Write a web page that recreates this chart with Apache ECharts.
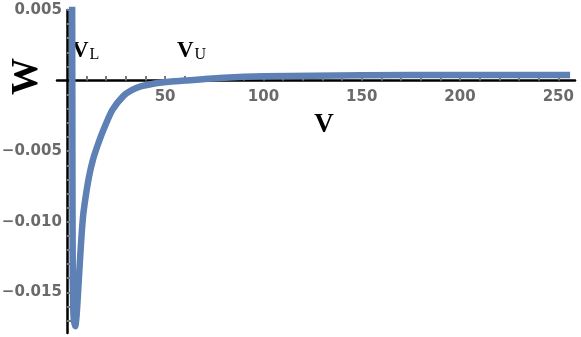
<!DOCTYPE html>
<html><head><meta charset="utf-8">
<script src="https://cdn.jsdelivr.net/npm/echarts@6/dist/echarts.min.js"></script>
<style>html,body{margin:0;padding:0;background:#fff}#c{width:581px;height:337px}</style>
</head><body><div id="c"></div>
<script>
const vValues = [2.70, 2.78, 2.88, 3.0, 3.2, 3.6, 4.3, 5.0, 5.8, 7.0, 8.2, 9.5, 11.3, 13.3, 15.5, 18.6, 23.1, 28.7, 33, 38, 44, 52, 60, 80, 100, 150, 200, 256];
const wValues = [0.0065, 0.0, -0.0080, -0.0133, -0.0158, -0.0170, -0.0174, -0.0166, -0.0148, -0.0120, -0.0097, -0.0083, -0.0068, -0.0056, -0.00465, -0.0035, -0.0021, -0.0011, -0.00068, -0.00040, -0.00022, -0.00009, 0.0, 0.0002, 0.0003, 0.00037, 0.0004, 0.0004];
const xTickLabels = [50, 100, 150, 200, 250];
const yTickLabels = [0.005, -0.005, -0.010, -0.015];
const xMinorTicks = [10,20,30,40,50,60,70,80,90,100,110,120,130,140,150,160,170,180,190,200,210,220,230,240,250];
const yMinorTicks = [0.005,0.004,0.003,0.002,0.001,-0.001,-0.002,-0.003,-0.004,-0.005,-0.006,-0.007,-0.008,-0.009,-0.010,-0.011,-0.012,-0.013,-0.014,-0.015,-0.016,-0.017];
const annotations = [{main:'V', sub:'L'}, {main:'V', sub:'U'}];

const xMin = -5, xMax = 258.5, yMin = -0.01788, yMax = 0.005;
const gridL = 57, gridR = 6, gridT = 10, gridB = 4;
const W = 581, H = 337;
const plotW = W - gridL - gridR, plotH = H - gridT - gridB;
// shift axes so that they cross at the origin
const xOffset = -plotH * (0 - yMin) / (yMax - yMin);
const yOffset = -plotW * (0 - xMin) / (xMax - xMin);

const chart = echarts.init(document.getElementById('c'), null, {renderer:'canvas'});
const labelStyle = {color:'#6a6a6a', fontFamily:'DejaVu Sans, sans-serif', fontWeight:'bold', fontSize:15};
const richAnno = {m:{font:'bold 23px Liberation Serif', fill:'#000', verticalAlign:'bottom', lineHeight:24},
                  s:{font:'16px Liberation Serif', fill:'#000', verticalAlign:'bottom', lineHeight:24, padding:[0,0,0,1]}};
chart.setOption({
  animation:false,
  grid:{left:gridL, right:gridR, top:gridT, bottom:gridB, containLabel:false, outerBoundsMode:'none'},
  xAxis:{type:'value', min:xMin, max:xMax, position:'bottom', offset:xOffset,
    axisLine:{onZero:false, lineStyle:{color:'#000', width:2.5}},
    axisTick:{show:true, inside:true, length:4.5, customValues:xMinorTicks, lineStyle:{color:'#7a7a7a', width:2}},
    axisLabel:Object.assign({customValues:xTickLabels, margin:9, formatter:v=>String(v)}, labelStyle),
    splitLine:{show:false},
    name:'V', nameLocation:'middle', nameGap:31,
    nameTextStyle:{fontFamily:'Liberation Serif, Times New Roman, serif', fontWeight:'bold', fontSize:27, color:'#000', padding:[0,0,0,16]}
  },
  yAxis:{type:'value', min:yMin, max:yMax, position:'left', offset:yOffset,
    axisLine:{onZero:false, lineStyle:{color:'#000', width:2.5}},
    axisTick:{show:true, inside:true, length:4.5, customValues:yMinorTicks, lineStyle:{color:'#7a7a7a', width:2}},
    axisLabel:Object.assign({customValues:yTickLabels, margin:5, formatter:v=>(v<0?'\u2212':'')+Math.abs(v).toFixed(3)}, labelStyle),
    splitLine:{show:false}
  },
  graphic:[
    {type:'text', left:9, top:58, rotation:Math.PI/2, style:{text:'W', font:'bold 37px Liberation Serif', fill:'#000'}},
    {type:'text', left:72, top:40, style:{text:'{m|'+annotations[0].main+'}{s|'+annotations[0].sub+'}', rich:richAnno}},
    {type:'text', left:177, top:40, style:{text:'{m|'+annotations[1].main+'}{s|'+annotations[1].sub+'}', rich:richAnno}}
  ],
  series:[{type:'line', data:vValues.map((v,i)=>[v,wValues[i]]), showSymbol:false, smooth:0.2, clip:true,
    lineStyle:{color:'#5E81B5', width:6.5}}]
});
</script></body></html>
